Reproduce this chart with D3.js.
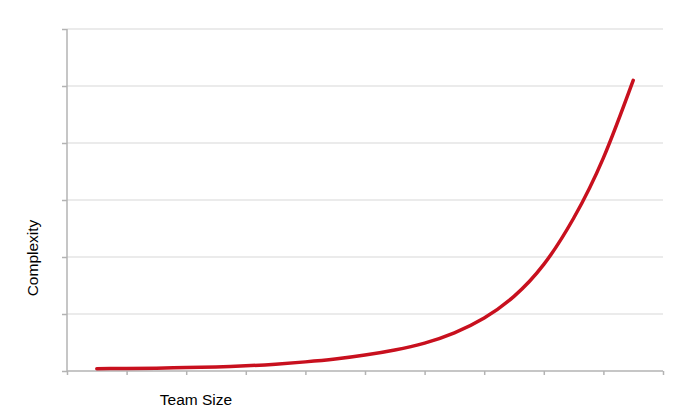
<!DOCTYPE html>
<html>
<head>
<meta charset="utf-8">
<script src="https://cdn.jsdelivr.net/npm/d3@7"></script>
<style>
  body { margin: 0; background: #fff; }
  svg { display: block; }
</style>
</head>
<body>
<div id="chart"></div>
<script>
var w = 683;
var h = 411;

// team size steps (x) and complexity (y)
var teamSize = [0.5, 1, 1.5, 2, 2.5, 3, 3.5, 4, 4.5, 5, 5.5, 6, 6.5, 7, 7.5, 8, 8.5, 9, 9.5];
var complexity = [0.04, 0.045, 0.05, 0.06, 0.07, 0.09, 0.12, 0.16, 0.21, 0.28, 0.37, 0.49, 0.67, 0.93, 1.31, 1.87, 2.68, 3.74, 5.1];
var xTicks = [0, 1, 2, 3, 4, 5, 6, 7, 8, 9, 10];
var yTicks = [0, 1, 2, 3, 4, 5, 6];

var svg = d3.select("#chart").append("svg").attr("width", w).attr("height", h);

var x = d3.scaleLinear().domain([0, 10]).range([67, 663]);
var y = d3.scaleLinear().domain([0, 6]).range([371, 29]);

// gridlines
svg.append("g")
  .selectAll("line")
  .data(yTicks.slice(1))
  .enter()
  .append("line")
  .attr("x1", x(0))
  .attr("x2", x(10))
  .attr("y1", function (d) { return y(d); })
  .attr("y2", function (d) { return y(d); })
  .attr("stroke", "#e4e4e4")
  .attr("stroke-width", 1.5);

var yAxis = svg.append("g")
  .attr("transform", "translate(" + x(0) + ",0)")
  .call(d3.axisLeft(y).tickValues(yTicks).tickSize(5).tickFormat(""));

var xAxis = svg.append("g")
  .attr("transform", "translate(0," + y(0) + ")")
  .call(d3.axisBottom(x).tickValues(xTicks).tickSize(4).tickSizeOuter(0).tickFormat(""));

svg.selectAll(".domain, .tick line")
  .attr("stroke", "#b3b3b3")
  .attr("stroke-width", 1.5);

// plain axis lines, no outer ticks
xAxis.select(".domain").attr("d", "M" + x(0) + ",0H" + x(10));
yAxis.select(".domain").attr("d", "M0," + y(6) + "V" + y(0));

var line = d3.line()
  .x(function (d, i) { return x(teamSize[i]); })
  .y(function (d) { return y(d); })
  .curve(d3.curveNatural);

svg.append("path")
  .datum(complexity)
  .attr("d", line)
  .attr("fill", "none")
  .attr("stroke", "#c8101e")
  .attr("stroke-width", 3.5)
  .attr("stroke-linecap", "round");

svg.append("text")
  .text("Team Size")
  .attr("x", 196)
  .attr("y", 405)
  .attr("text-anchor", "middle")
  .attr("font-family", "Liberation Sans, Arial, sans-serif")
  .attr("font-size", "15.5px")
  .attr("fill", "#000");

svg.append("text")
  .text("Complexity")
  .attr("transform", "translate(38,258) rotate(-90)")
  .attr("text-anchor", "middle")
  .attr("font-family", "Liberation Sans, Arial, sans-serif")
  .attr("font-size", "15.5px")
  .attr("fill", "#000");
</script>
</body>
</html>
